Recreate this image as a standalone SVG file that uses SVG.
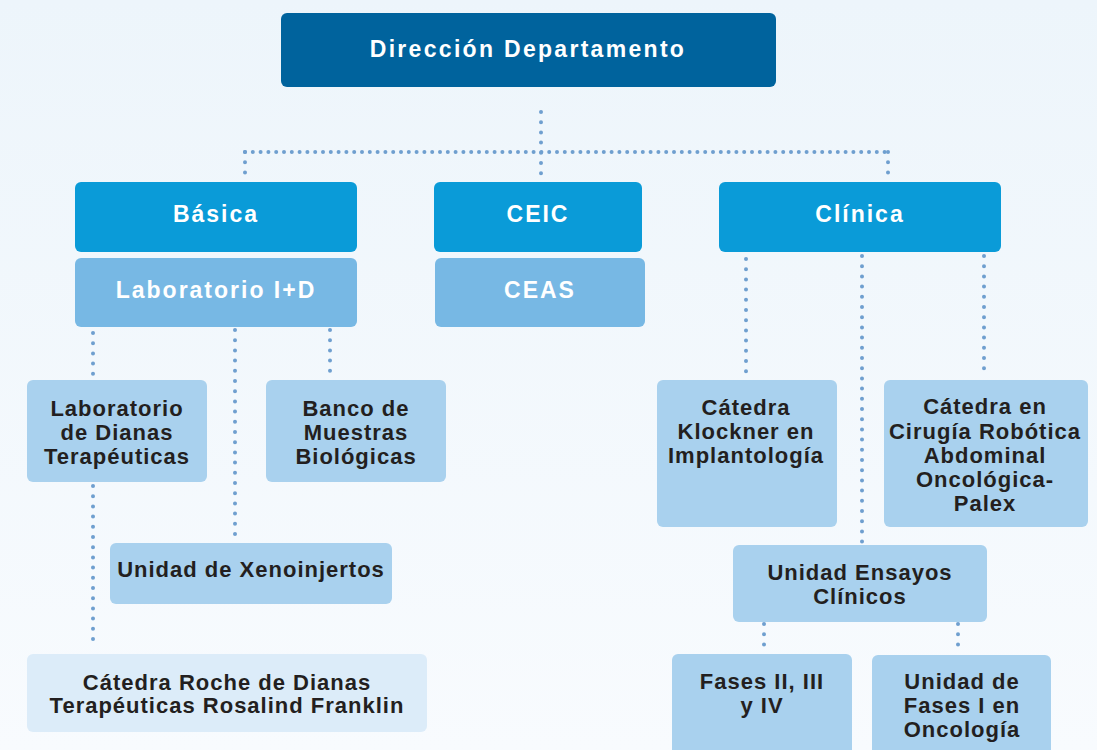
<svg xmlns="http://www.w3.org/2000/svg" width="1097" height="750" viewBox="0 0 1097 750">
<defs>
<linearGradient id="bg" x1="0" y1="0" x2="0" y2="1">
<stop offset="0" stop-color="#edf5fb"/>
<stop offset="1" stop-color="#f8fbfe"/>
</linearGradient>
</defs>
<style>
.top{fill:#00639d}
.l2{fill:#0a9bd8}
.l3{fill:#77b8e4}
.lt{fill:#a9d1ee}
.pale{fill:#dcecf9}
text{font-family:"Liberation Sans",Arial,sans-serif;font-weight:bold;text-anchor:middle}
.w{fill:#ffffff;font-size:23px;letter-spacing:2px}
.t{fill:#ffffff;font-size:23px;letter-spacing:2.3px}
.d{fill:#231f20;font-size:22px;letter-spacing:1px}
.v{fill:none;stroke:#6f9fcf;stroke-width:4;stroke-linecap:round;stroke-dasharray:0 10.2}
.h{fill:none;stroke:#6f9fcf;stroke-width:4;stroke-linecap:round;stroke-dasharray:0 7.8}
</style>
<rect x="0" y="0" width="1097" height="750" fill="url(#bg)"/>
<g id="connectors">
<path class="v" d="M541 112V180"/>
<path class="h" d="M245 152H888"/>
<path class="v" d="M245 152V178"/>
<path class="v" d="M888 152V178"/>
<path class="v" d="M93 333V375"/>
<path class="v" d="M235 330V540"/>
<path class="v" d="M330 330V378"/>
<path class="v" d="M93 486V649"/>
<path class="v" d="M746 259V378"/>
<path class="v" d="M862 256V543"/>
<path class="v" d="M984 256V378"/>
<path class="v" d="M764 624V652"/>
<path class="v" d="M958 624V652"/>
</g>
<g id="direccion">
<rect class="top" x="281" y="13" width="495" height="74" rx="6"/>
<text class="t" x="528" y="57">Dirección Departamento</text>
</g>
<g id="basica">
<rect class="l2" x="75" y="182" width="282" height="70" rx="6"/>
<text class="w" x="216" y="222">Básica</text>
</g>
<g id="ceic">
<rect class="l2" x="434" y="182" width="208" height="70" rx="6"/>
<text class="w" x="538" y="222">CEIC</text>
</g>
<g id="clinica">
<rect class="l2" x="719" y="182" width="282" height="70" rx="6"/>
<text class="w" x="860" y="222">Clínica</text>
</g>
<g id="lab-id">
<rect class="l3" x="75" y="258" width="282" height="69" rx="6"/>
<text class="w" x="216" y="298">Laboratorio I+D</text>
</g>
<g id="ceas">
<rect class="l3" x="435" y="258" width="210" height="69" rx="6"/>
<text class="w" x="540" y="298">CEAS</text>
</g>
<g id="lab-dianas">
<rect class="lt" x="27" y="380" width="180" height="102" rx="6"/>
<text class="d" x="117" y="416">Laboratorio</text>
<text class="d" x="117" y="440">de Dianas</text>
<text class="d" x="117" y="464">Terapéuticas</text>
</g>
<g id="banco">
<rect class="lt" x="266" y="380" width="180" height="102" rx="6"/>
<text class="d" x="356" y="416">Banco de</text>
<text class="d" x="356" y="440">Muestras</text>
<text class="d" x="356" y="464">Biológicas</text>
</g>
<g id="xenoinjertos">
<rect class="lt" x="110" y="543" width="282" height="61" rx="6"/>
<text class="d" x="251" y="577">Unidad de Xenoinjertos</text>
</g>
<g id="roche">
<rect class="pale" x="27" y="654" width="400" height="78" rx="6"/>
<text class="d" x="227" y="690">Cátedra Roche de Dianas</text>
<text class="d" x="227" y="713">Terapéuticas Rosalind Franklin</text>
</g>
<g id="klockner">
<rect class="lt" x="657" y="380" width="180" height="147" rx="6"/>
<text class="d" x="746" y="415">Cátedra</text>
<text class="d" x="746" y="439">Klockner en</text>
<text class="d" x="746" y="463">Implantología</text>
</g>
<g id="cirugia">
<rect class="lt" x="884" y="380" width="204" height="147" rx="6"/>
<text class="d" x="985" y="414">Cátedra en</text>
<text class="d" x="985" y="439">Cirugía Robótica</text>
<text class="d" x="985" y="463">Abdominal</text>
<text class="d" x="985" y="487">Oncológica-</text>
<text class="d" x="985" y="511">Palex</text>
</g>
<g id="ensayos">
<rect class="lt" x="733" y="545" width="254" height="77" rx="6"/>
<text class="d" x="860" y="580">Unidad Ensayos</text>
<text class="d" x="860" y="604">Clínicos</text>
</g>
<g id="fases-2-3-4">
<rect class="lt" x="672" y="654" width="180" height="110" rx="6"/>
<text class="d" x="762" y="689">Fases II, III</text>
<text class="d" x="762" y="713">y IV</text>
</g>
<g id="fases-1">
<rect class="lt" x="872" y="655" width="179" height="110" rx="6"/>
<text class="d" x="962" y="689">Unidad de</text>
<text class="d" x="962" y="713">Fases I en</text>
<text class="d" x="962" y="737">Oncología</text>
</g>
</svg>
